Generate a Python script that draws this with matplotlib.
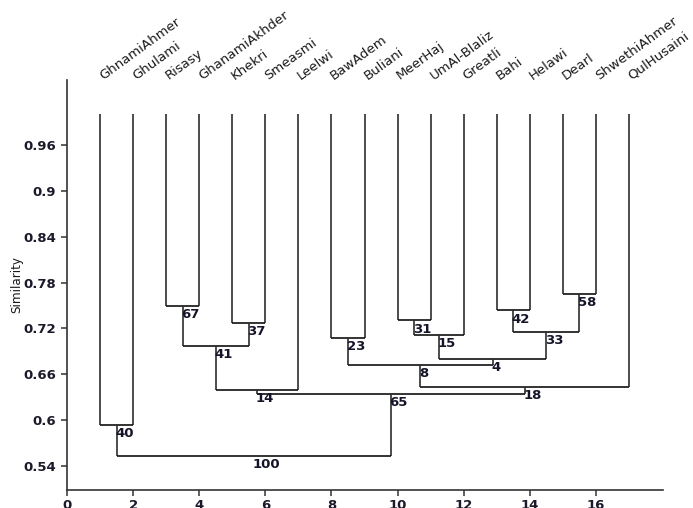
import numpy as np
import matplotlib
matplotlib.use('Agg')
import matplotlib.pyplot as plt

# leaves in dendrogram order (positions 1..17)
leaves = ['GhnamiAhmer', 'Ghulami', 'Risasy', 'GhanamiAkhder', 'Khekri', 'Smeasmi',
          'Leelwi', 'BawAdem', 'Buliani', 'MeerHaj', 'UmAl-Blaliz', 'Greatli',
          'Bahi', 'Helawi', 'Dearl', 'ShwethiAhmer', 'QulHusaini']
leaf_sim = 1.0

# merges: children indices (leaves 0..16, new nodes from 17), similarity, bootstrap label
left_child  = [0, 2, 4, 18, 20, 7, 9, 23, 12, 14, 25, 24, 22, 29, 21, 17]
right_child = [1, 3, 5, 19, 6, 8, 10, 11, 13, 15, 26, 27, 28, 16, 30, 31]
merge_sim = [0.5935, 0.749, 0.7275, 0.697, 0.639, 0.707, 0.7305, 0.711,
             0.7435, 0.7657, 0.716, 0.6796, 0.6718, 0.6434, 0.6339, 0.553]
boot = [40, 67, 37, 41, 14, 23, 31, 15, 42, 58, 33, 4, 8, 18, 65, 100]

yticks = [0.54, 0.6, 0.66, 0.72, 0.78, 0.84, 0.9, 0.96]
xticks = [0, 2, 4, 6, 8, 10, 12, 14, 16]

fig = plt.figure(figsize=(6.93, 5.08), dpi=100)
ax = fig.add_axes([0.0967, 0.0354, 0.860, 0.807])

node_x = list(np.arange(1, len(leaves) + 1, dtype=float))
node_y = [leaf_sim] * len(leaves)
lc = '#2e2e2e'
for a, b, h, lab in zip(left_child, right_child, merge_sim, boot):
    xa, xb = node_x[a], node_x[b]
    ax.plot([xa, xa], [node_y[a], h], color=lc, lw=1.2, solid_capstyle='butt')
    ax.plot([xb, xb], [node_y[b], h], color=lc, lw=1.2, solid_capstyle='butt')
    ax.plot([xa, xb], [h, h], color='#111111', lw=1.2, solid_capstyle='butt')
    xm = (xa + xb) / 2
    node_x.append(xm)
    node_y.append(h)
    ax.annotate(str(lab), (xm, h), xytext=(-1, -1.5), textcoords='offset points',
                ha='left', va='top', fontsize=9.5, fontweight='bold', color='#15152a')

ax.set_xlim(0, 18.03)
ax.set_ylim(0.5086, 1.045)
for i, name in enumerate(leaves):
    ax.annotate(name, (i + 1, 1.045), xytext=(2, 0), textcoords='offset points',
                rotation=36, rotation_mode='anchor', ha='left', va='baseline',
                fontsize=9.5, color='#1a1a1a', annotation_clip=False)

ax.spines['top'].set_visible(False)
ax.spines['right'].set_visible(False)
for s in ['left', 'bottom']:
    ax.spines[s].set_color('#333333')
    ax.spines[s].set_linewidth(1.2)
ax.set_xticks(xticks)
ax.set_yticks(yticks)
ax.set_yticklabels([str(t) for t in yticks])
ax.tick_params(length=4, width=1.1, color='#333333', pad=4, labelsize=9.5)
ax.tick_params(axis='x', pad=2.5)
for t in ax.get_xticklabels() + ax.get_yticklabels():
    t.set_fontweight('bold')
    t.set_color('#1a1a2a')

fig.text(17 / 693, 1 - 285 / 508, 'Similarity', rotation=90, ha='center', va='center',
         fontsize=9.5, fontstretch='condensed', color='#1a1a1a')

plt.savefig('out.png', dpi=100)
plt.close()
